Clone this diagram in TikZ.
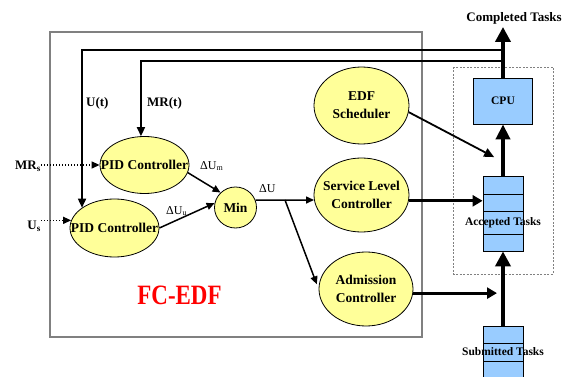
\documentclass[tikz,border=0pt]{standalone}
\usepackage{fontspec}
\setmainfont{Liberation Serif}
\usetikzlibrary{arrows.meta,shapes.geometric,calc}
\definecolor{ctrlfill}{HTML}{FFFF99}
\definecolor{taskfill}{HTML}{99CCFF}
\definecolor{framegray}{HTML}{808080}
\begin{document}
\begin{tikzpicture}[x=1pt,y=-1pt,
  ctrl/.style={ellipse, draw=black, line width=0.8pt, fill=ctrlfill, inner sep=0pt},
  ctext/.style={align=center, inner sep=0pt, font=\fontsize{13.5}{18}\selectfont\bfseries},
  lbl/.style={inner sep=0pt, font=\fontsize{13}{15}\selectfont\bfseries},
  dlbl/.style={inner sep=0pt, font=\fontsize{12}{14}\selectfont},
  qlbl/.style={inner sep=0pt, font=\fontsize{11.5}{13}\selectfont\bfseries},
  taskbox/.style={draw=black, line width=0.8pt, fill=taskfill, inner sep=0pt},
  thinarr/.style={line width=1.5pt, -{Triangle[length=8pt,width=7pt]}},
  feed/.style={line width=1.6pt, -{Triangle[length=9pt,width=8pt]}},
  setpt/.style={line width=1.2pt, dash pattern=on 1.2pt off 1.8pt, -{Triangle[length=8pt,width=7pt]}},
  midarr/.style={line width=3pt, -{Triangle[length=10pt,width=11pt]}},
  bigarr/.style={line width=4pt, -{Triangle[length=15pt,width=15pt]}},
]
\useasboundingbox (0,0) rectangle (574,377);
\clip (0,0) rectangle (574,377);

% FC-EDF controller frame and the system boundary
\draw[framegray, line width=2pt] (50,32) rectangle (422,337);
\draw[gray, line width=0.6pt, dash pattern=on 2pt off 1.5pt] (453,67) rectangle (553,274);

% controllers
\node[ctrl, minimum width=95pt, minimum height=77pt,
      label={[ctext]center:{EDF\\Scheduler}}] (edf) at (361.5,105.5) {};
\node[ctrl, minimum width=95pt, minimum height=74pt,
      label={[ctext]center:{Service Level\\Controller}}] (svc) at (361.5,195) {};
\node[ctrl, minimum width=94pt, minimum height=74pt,
      label={[ctext]center:{Admission\\Controller}}] (adm) at (366,289) {};
\node[ctrl, minimum width=42pt, minimum height=41pt,
      label={[ctext]center:Min}] (min) at (235.5,207.5) {};
\node[ctrl, minimum width=89pt, minimum height=57pt,
      label={[ctext]center:PID Controller}] (pidm) at (144.5,165) {};
\node[ctrl, minimum width=89pt, minimum height=58pt,
      label={[ctext]center:PID Controller}] (pidu) at (114.5,228) {};

% task queues and CPU
\node[taskbox, minimum width=40pt, minimum height=75pt] (acc) at (503,213.5) {};
\foreach \yy in {194,211,234} \draw[line width=0.8pt] (483,\yy) -- (523,\yy);
\node[qlbl] (acclbl) at (503,223) {Accepted Tasks};

\node[taskbox, minimum width=40pt, minimum height=60pt, anchor=north] (sub) at (503,326) {};
\foreach \yy in {343,361} \draw[line width=0.8pt] (483,\yy) -- (523,\yy);
\node[qlbl] (sublbl) at (503,352) {Submitted Tasks};

\node[taskbox, minimum width=59pt, minimum height=46pt, font=\fontsize{11.5}{13}\selectfont\bfseries] (cpu) at (503,101) {CPU};
\node[lbl, anchor=base] (done) at (514,22) {Completed Tasks};

% text labels
\node[lbl, anchor=east] (mrs) at (41,166) {MR\textsubscript{s}};
\node[lbl, anchor=east] (us) at (41,226) {U\textsubscript{s}};
\node[lbl, anchor=west] (lut) at (86,103) {U(t)};
\node[lbl, anchor=west] (lmr) at (147,103) {MR(t)};
\node[dlbl, anchor=west] (ldum) at (200,166) {ΔU\textsubscript{m}};
\node[dlbl, anchor=west] (lduu) at (166,211) {ΔU\textsubscript{u}};
\node[dlbl, anchor=west] (ldu) at (259,189) {ΔU};
\node[text=red, font=\fontsize{28}{28}\selectfont\bfseries] (fc) at (179.5,295) {\scalebox{0.82}[1]{FC-EDF}};

% task flow
\draw[bigarr, shorten >=2pt] (cpu.north) -- (cpu.north |- done.south);
\draw[bigarr, -{Triangle[length=15pt,width=14pt]}] (acc.north) -- (cpu.south);
\draw[bigarr] (sub.north) -- (acc.south);
\draw[midarr] (svc.-7) -- (svc.-7 -| acc.west);
\draw[midarr, shorten >=6pt] (adm.-5) -- (adm.-5 -| sub.north);
\draw[thinarr, line width=1.8pt, -{Triangle[length=10pt,width=9pt]}, shorten >=10pt]
  (edf.-8) -- ($(acc.north)!0.27!(cpu.south)$);

% feedback from the CPU
\coordinate (j1) at (503,50);
\coordinate (j2) at (503,61);
\draw[feed] (j1) -| (pidu.148);
\draw[feed] (j2) -| (pidm.97);

% set points
\draw[setpt] (pidm.west -| mrs.east) -- (pidm.west);
\draw[setpt] (pidu.170 -| us.east) -- (pidu.170);

% controller outputs
\draw[thinarr] (pidm.-10) -- (min.135);
\draw[thinarr] (pidu.east) -- (min.168);
\draw[thinarr] (min.20) -- (svc.186);
\coordinate (br) at (285,200);
\draw[thinarr, shorten >=5pt] (br) -- (adm.west);
\end{tikzpicture}
\end{document}
